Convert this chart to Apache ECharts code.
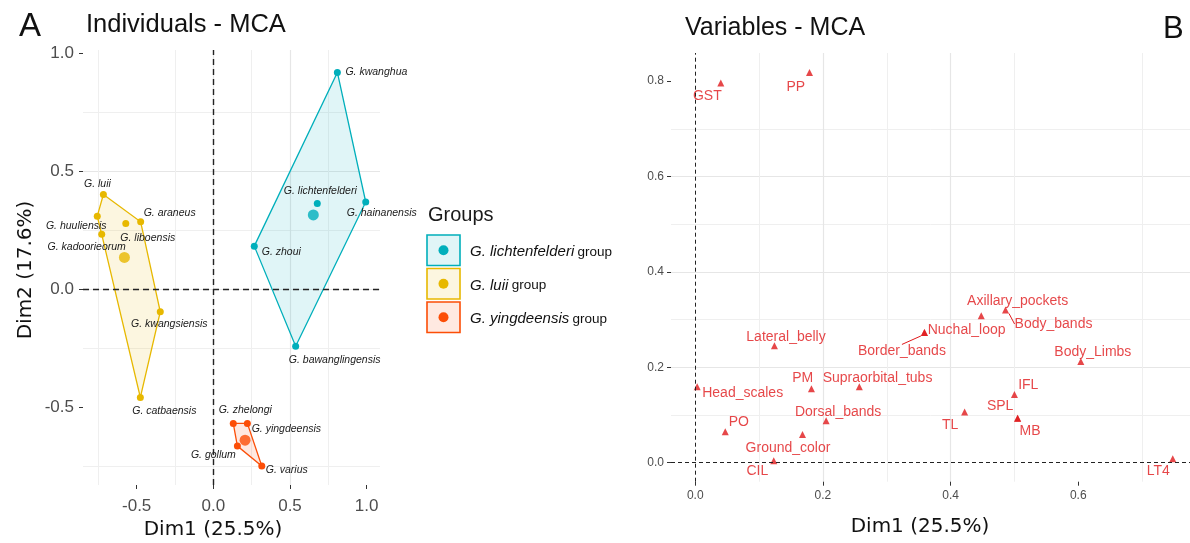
<!DOCTYPE html>
<html><head><meta charset="utf-8">
<script src="https://cdn.jsdelivr.net/npm/echarts@6/dist/echarts.min.js"></script>
<style>html,body{margin:0;padding:0;background:#fff}#c{width:1190px;height:543px}</style>
</head><body><div id="c"></div>
<script>
// ---------------- DATA ----------------
// Panel A: individuals
const groupNames = ['G. lichtenfelderi', 'G. luii', 'G. yingdeensis'];
const lichtNames = ['G. kwanghua', 'G. hainanensis', 'G. lichtenfelderi', 'G. zhoui', 'G. bawanglingensis'];
const lichtDim1 = [0.809, 0.994, 0.678, 0.267, 0.537];
const lichtDim2 = [0.918, 0.369, 0.363, 0.182, -0.242];
const luiiNames = ['G. luii', 'G. huuliensis', 'G. liboensis', 'G. araneus', 'G. kadoorieorum', 'G. kwangsiensis', 'G. catbaensis'];
const luiiDim1 = [-0.717, -0.757, -0.571, -0.474, -0.728, -0.346, -0.476];
const luiiDim2 = [0.401, 0.309, 0.278, 0.285, 0.232, -0.096, -0.459];
const yingNames = ['G. zhelongi', 'G. yingdeensis', 'G. gollum', 'G. varius'];
const yingDim1 = [0.130, 0.222, 0.157, 0.316];
const yingDim2 = [-0.569, -0.569, -0.665, -0.750];
const centroidDim1 = [0.652, -0.580, 0.207];
const centroidDim2 = [0.314, 0.134, -0.640];
const lichtHull = ['G. kwanghua', 'G. hainanensis', 'G. bawanglingensis', 'G. zhoui'];
const luiiHull = ['G. luii', 'G. araneus', 'G. kwangsiensis', 'G. catbaensis', 'G. kadoorieorum', 'G. huuliensis'];
const yingHull = ['G. zhelongi', 'G. yingdeensis', 'G. varius', 'G. gollum'];
const ticksA = [-0.5, 0, 0.5, 1.0];

// Panel B: variables
const varNames = ['GST', 'PP', 'Axillary_pockets', 'Body_bands', 'Nuchal_loop', 'Border_bands', 'Lateral_belly', 'Body_Limbs', 'Head_scales', 'PM', 'Supraorbital_tubs', 'IFL', 'SPL', 'MB', 'TL', 'Dorsal_bands', 'PO', 'Ground_color', 'CIL', 'LT4'];
const varDim1 = [0.040, 0.179, 0.448, 0.486, 0.359, 0.359, 0.124, 0.604, 0.003, 0.182, 0.257, 0.500, 0.505, 0.505, 0.422, 0.205, 0.047, 0.168, 0.123, 0.748];
const varDim2 = [0.796, 0.818, 0.308, 0.320, 0.273, 0.273, 0.245, 0.212, 0.159, 0.155, 0.159, 0.143, 0.093, 0.093, 0.106, 0.088, 0.065, 0.059, 0.004, 0.008];
const ticksBx = [0, 0.2, 0.4, 0.6];
const ticksBy = [0, 0.2, 0.4, 0.6, 0.8];

// ---------------- STYLE ----------------
const colors = ['#00AFBB', '#E7B800', '#FC4E07'];
const fills = ['rgba(0,175,187,0.12)', 'rgba(231,184,0,0.12)', 'rgba(252,78,7,0.12)'];
const varColor = '#E0191B';
// label offsets (pixels, label centre relative to point)
const offA = {
  'G. kwanghua': [39, 0], 'G. hainanensis': [16, 11], 'G. lichtenfelderi': [3, -12], 'G. zhoui': [27, 6],
  'G. bawanglingensis': [39, 14], 'G. luii': [-6, -10], 'G. araneus': [29, -9], 'G. huuliensis': [-21, 10],
  'G. liboensis': [22, 15], 'G. kadoorieorum': [-15, 13], 'G. kwangsiensis': [9, 12], 'G. catbaensis': [24, 14],
  'G. zhelongi': [12, -13], 'G. yingdeensis': [39, 6], 'G. gollum': [-24, 9], 'G. varius': [25, 4]
};
const offB = {
  'GST': [-13.5, 13.3], 'PP': [-13.8, 14.7], 'Axillary_pockets': [36.4, -14.3], 'Body_bands': [48, 14],
  'Nuchal_loop': [42.2, -2.7], 'Border_bands': [-22.5, 19], 'Lateral_belly': [11.6, -8.7], 'Body_Limbs': [12, -9],
  'Head_scales': [45.5, 6], 'PM': [-8.7, -10.7], 'Supraorbital_tubs': [18.2, -8.3], 'IFL': [13.8, -9.3],
  'SPL': [-17.5, -11.7], 'MB': [12.4, 13.3], 'TL': [-14.5, 12.7], 'Dorsal_bands': [12, -9], 'PO': [13.5, -9],
  'Ground_color': [-14.5, 13.7], 'CIL': [-16.4, 10.7], 'LT4': [-14.5, 12.7]
};
const leaderB = ['Body_bands', 'Border_bands'];

const chart = echarts.init(document.getElementById('c'), null, { renderer: 'canvas' });

function gridAxis(gridIndex, min, max, step, ticks, labelSize, labelMargin) {
  return {
    type: 'value', gridIndex, min, max, minInterval: step, maxInterval: step,
    axisLine: { show: false, onZero: false },
    axisTick: { show: true, length: 4, customValues: ticks, lineStyle: { color: '#333', width: 1 } },
    axisLabel: {
      customValues: ticks,
      color: '#4D4D4D', fontSize: labelSize, fontFamily: 'Liberation Sans, Arial, sans-serif',
      margin: labelMargin, formatter: v => v.toFixed(1)
    },
    splitLine: { show: true, showMinLine: false, showMaxLine: false, lineStyle: { color: '#e6e6e6', width: 1.2 } },
    minorTick: { show: false, splitNumber: 2 },
    minorSplitLine: { show: true, lineStyle: { color: '#efefef', width: 1 } }
  };
}

function pointsData(names, d1, d2, leaders) {
  return names.map((n, i) => {
    const item = { name: n, value: [d1[i], d2[i]] };
    if (leaders && leaders.indexOf(n) >= 0) item.labelLine = { show: true };
    return item;
  });
}
function layoutFrom(names, off) {
  return function (p) {
    const o = off[names[p.dataIndex]] || [0, 0];
    return { dx: o[0], dy: o[1], hideOverlap: false };
  };
}

function hullSeries(hull, names, d1, d2, gi) {
  return {
    type: 'custom', xAxisIndex: 0, yAxisIndex: 0, data: [[0, 0]], z: 1, silent: true, clip: true,
    renderItem(params, api) {
      const pts = hull.map(n => { const i = names.indexOf(n); return api.coord([d1[i], d2[i]]); });
      return { type: 'polygon', shape: { points: pts }, style: { fill: fills[gi], stroke: colors[gi], lineWidth: 1.3 } };
    }
  };
}

function groupScatter(names, d1, d2, gi) {
  return {
    type: 'scatter', xAxisIndex: 0, yAxisIndex: 0, symbol: 'circle', symbolSize: 7, z: 3,
    itemStyle: { color: colors[gi], opacity: 1 },
    label: { show: true, position: 'inside', formatter: '{b}', color: '#1a1a1a', fontSize: 10.5, fontStyle: 'italic',
      fontFamily: 'Liberation Sans, Arial, sans-serif', align: 'center', verticalAlign: 'middle' },
    labelLayout: layoutFrom(names, offA),
    data: pointsData(names, d1, d2)
  };
}

const series = [
  hullSeries(lichtHull, lichtNames, lichtDim1, lichtDim2, 0),
  hullSeries(luiiHull, luiiNames, luiiDim1, luiiDim2, 1),
  hullSeries(yingHull, yingNames, yingDim1, yingDim2, 2),
  groupScatter(lichtNames, lichtDim1, lichtDim2, 0),
  groupScatter(luiiNames, luiiDim1, luiiDim2, 1),
  groupScatter(yingNames, yingDim1, yingDim2, 2),
  {
    type: 'scatter', xAxisIndex: 0, yAxisIndex: 0, symbol: 'circle', symbolSize: 11, z: 4,
    data: centroidDim1.map((x, i) => ({ value: [x, centroidDim2[i]], itemStyle: { color: colors[i] } })),
    markLine: {
      silent: true, symbol: 'none', label: { show: false }, animation: false,
      lineStyle: { color: '#222', type: [6, 4], width: 1.4 },
      data: [{ xAxis: 0 }, { yAxis: 0 }]
    }
  },
  {
    type: 'scatter', xAxisIndex: 1, yAxisIndex: 1, symbol: 'triangle', symbolSize: 7, z: 3,
    itemStyle: { color: varColor },
    label: { show: true, position: 'inside', formatter: '{b}', color: varColor, fontSize: 14,
      fontFamily: 'Liberation Sans, Arial, sans-serif', align: 'center', verticalAlign: 'middle' },
    labelLine: { show: false, lineStyle: { color: varColor, width: 1 } },
    labelLayout: layoutFrom(varNames, offB),
    data: pointsData(varNames, varDim1, varDim2, leaderB),
    markLine: {
      silent: true, symbol: 'none', label: { show: false }, animation: false,
      lineStyle: { color: '#222', type: [4, 3], width: 1 },
      data: [{ xAxis: 0 }, { yAxis: 0 }]
    }
  }
];

const tx = (text, x, y, font, extra) => Object.assign({
  type: 'text', x, y, silent: true,
  style: Object.assign({ text, font, fill: '#111', textAlign: 'left', textVerticalAlign: 'middle' }, extra || {})
});

const graphic = [
  tx('A', 19, 27, '33px Liberation Sans, Arial, sans-serif'),
  tx('Individuals - MCA', 86, 25, '25.5px Liberation Sans, Arial, sans-serif'),
  tx('Variables - MCA', 685, 28, '25px Liberation Sans, Arial, sans-serif'),
  tx('B', 1163, 29, '31px Liberation Sans, Arial, sans-serif'),
  tx('Dim1 (25.5%)', 213, 530, '20px DejaVu Sans, sans-serif', { textAlign: 'center' }),
  tx('Dim1 (25.5%)', 920, 527, '20px DejaVu Sans, sans-serif', { textAlign: 'center' }),
  { type: 'text', x: 26, y: 270, rotation: Math.PI / 2, silent: true,
    style: { text: 'Dim2 (17.6%)', font: '20px DejaVu Sans, sans-serif', fill: '#111', textAlign: 'center', textVerticalAlign: 'middle' } },
  tx('Groups', 428, 215, '20px Liberation Sans, Arial, sans-serif', { fill: '#1a1a1a' })
];
const legendY = [235, 268.5, 302];
groupNames.forEach((g, i) => {
  graphic.push({ type: 'rect', silent: true, shape: { x: 427, y: legendY[i], width: 33, height: 30.5 },
    style: { fill: fills[i], stroke: colors[i], lineWidth: 1.6 } });
  graphic.push({ type: 'circle', silent: true, shape: { cx: 443.5, cy: legendY[i] + 15.25, r: 5 }, style: { fill: colors[i] } });
  graphic.push({ type: 'text', x: 470, y: legendY[i] + 17, silent: true,
    style: { rich: { it: { fontStyle: 'italic', fontSize: 15, fontFamily: 'Liberation Sans, Arial, sans-serif', fill: '#111' },
                     n: { fontSize: 13.5, fontFamily: 'Liberation Sans, Arial, sans-serif', fill: '#111' } },
             text: '{it|' + g + '} {n|group}', textVerticalAlign: 'middle' } });
});

chart.setOption({
  animation: false,
  backgroundColor: '#fff',
  grid: [
    { left: 83, top: 50, width: 297, height: 435 },
    { left: 671, top: 53, width: 519, height: 428.7 }
  ],
  xAxis: [
    gridAxis(0, -0.85, 1.087, 0.5, ticksA, 17, 13),
    gridAxis(1, -0.038, 0.775, 0.2, ticksBx, 12, 8)
  ],
  yAxis: [
    gridAxis(0, -0.83, 1.013, 0.5, ticksA, 17, 9),
    gridAxis(1, -0.04, 0.859, 0.2, ticksBy, 12, 7)
  ],
  graphic,
  series
});
</script></body></html>
